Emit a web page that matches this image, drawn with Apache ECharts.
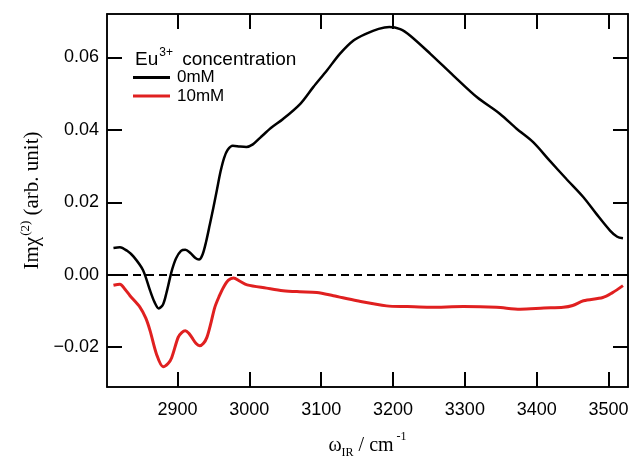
<!DOCTYPE html>
<html>
<head>
<meta charset="utf-8">
<script src="https://cdn.jsdelivr.net/npm/echarts@6/dist/echarts.min.js"></script>
<style>html,body{margin:0;padding:0;background:#fff}#c{width:630px;height:457px}</style>
</head>
<body>
<div id="c"></div>
<script>
var xTicks = [2900, 3000, 3100, 3200, 3300, 3400, 3500];
var yTicks = [-0.02, 0, 0.02, 0.04, 0.06];
var seriesNames = ['0mM', '10mM'];

var wn0 = [2811, 2820, 2830, 2839, 2852, 2862, 2868, 2874, 2880, 2885, 2892, 2898, 2905, 2911, 2918, 2925, 2930, 2935, 2940, 2945, 2950, 2955, 2960, 2965, 2970, 2977, 2987, 2996, 3005, 3015, 3030, 3047, 3071, 3089, 3108, 3126, 3145, 3163, 3180, 3195, 3210, 3224, 3252, 3284, 3317, 3349, 3372, 3395, 3418, 3441, 3465, 3483, 3502, 3512, 3520];
var im0 = [0.0074, 0.0076, 0.0066, 0.0050, 0.0013, -0.0044, -0.0075, -0.0093, -0.0082, -0.0048, 0.0010, 0.0045, 0.0066, 0.0069, 0.0060, 0.0046, 0.0042, 0.0056, 0.0092, 0.0138, 0.0185, 0.0235, 0.0285, 0.0323, 0.0345, 0.0356, 0.0354, 0.0353, 0.0360, 0.0378, 0.0405, 0.0430, 0.0472, 0.0518, 0.0564, 0.0610, 0.0647, 0.0666, 0.0679, 0.0684, 0.0678, 0.0660, 0.0610, 0.0550, 0.0490, 0.0444, 0.0403, 0.0366, 0.0315, 0.0265, 0.0214, 0.0168, 0.0122, 0.0105, 0.0101];

var wn10 = [2811, 2820, 2827, 2834, 2848, 2856, 2862, 2871, 2880, 2887, 2892, 2901, 2906, 2911, 2916, 2920, 2926, 2931, 2936, 2941, 2947, 2952, 2958, 2964, 2971, 2978, 2987, 2997, 3024, 3047, 3070, 3094, 3117, 3150, 3191, 3220, 3251, 3298, 3344, 3377, 3410, 3437, 3450, 3465, 3492, 3505, 3520];
var im10 = [-0.0029, -0.0026, -0.0040, -0.0058, -0.0090, -0.0120, -0.0155, -0.0220, -0.0254, -0.0245, -0.0229, -0.0173, -0.0160, -0.0155, -0.0162, -0.0173, -0.0190, -0.0196, -0.0190, -0.0173, -0.0130, -0.0090, -0.0060, -0.0035, -0.0015, -0.0009, -0.0018, -0.0028, -0.0037, -0.0044, -0.0047, -0.0049, -0.0058, -0.0072, -0.0086, -0.0088, -0.0090, -0.0088, -0.0090, -0.0095, -0.0092, -0.0090, -0.0085, -0.0072, -0.0063, -0.0050, -0.0030];

function pairs(xs, ys) { return xs.map(function (x, i) { return [x, ys[i]]; }); }

var X_MIN = 2802, X_MAX = 3527, Y_MIN = -0.031, Y_MAX = 0.072;
var sans = 'Liberation Sans, Arial, sans-serif';
var serif = 'Liberation Serif, Times New Roman, serif';

var chart = echarts.init(document.getElementById('c'), null, {renderer: 'canvas'});
var axisLine = {show: true, onZero: false, lineStyle: {color: '#000', width: 1.5}};
var tickStyle = {color: '#000', width: 2};

chart.setOption({
  animation: false,
  backgroundColor: '#fff',
  title: {
    left: 130, top: 42,
    text: '{b|Eu}{s|3+}{b| concentration}',
    textStyle: {
      fontWeight: 'normal',
      rich: {
        b: {fontFamily: sans, fontSize: 19, fontWeight: 'normal', color: '#000', lineHeight: 26},
        s: {fontFamily: sans, fontSize: 12, fontWeight: 'normal', color: '#000', verticalAlign: 'top', lineHeight: 12, padding: [0, 4, 0, 1]}
      }
    }
  },
  legend: {
    left: 128, top: 64, orient: 'vertical',
    icon: 'rect', itemWidth: 37, itemHeight: 3, itemGap: 1.5,
    data: seriesNames,
    textStyle: {fontFamily: sans, fontSize: 17, color: '#000', lineHeight: 16, padding: [0, 0, 0, 2]}
  },
  grid: {left: 107, right: 2, top: 14, bottom: 70, containLabel: false, outerBoundsMode: 'none',
    show: true, borderColor: '#000', borderWidth: 1.5},
  xAxis: [{
    type: 'value', min: X_MIN, max: X_MAX, position: 'bottom',
    axisLine: axisLine,
    axisTick: {show: true, inside: true, length: 15, lineStyle: tickStyle, customValues: xTicks},
    axisLabel: {show: true, customValues: xTicks, margin: 14, fontFamily: sans, fontSize: 18, color: '#000',
      formatter: function (v) { return String(v); }},
    splitLine: {show: false},
    name: '{a|ω}{sub|IR}{a| / cm}{sup|-1}',
    nameLocation: 'middle', nameGap: 44,
    nameTextStyle: {
      rich: {
        a: {fontFamily: serif, fontSize: 20, color: '#000', lineHeight: 30},
        sub: {fontFamily: serif, fontSize: 12, color: '#000', verticalAlign: 'bottom', lineHeight: 12, padding: [0, 0, 2, 0]},
        sup: {fontFamily: serif, fontSize: 12, color: '#000', verticalAlign: 'top', lineHeight: 12, padding: [0, 0, 0, 3]}
      }
    }
  }, {
    type: 'value', min: X_MIN, max: X_MAX, position: 'top',
    axisLine: axisLine,
    axisTick: {show: true, inside: true, length: 15, lineStyle: tickStyle, customValues: xTicks},
    axisLabel: {show: false},
    splitLine: {show: false}
  }],
  yAxis: [{
    type: 'value', min: Y_MIN, max: Y_MAX, position: 'left',
    axisLine: axisLine,
    axisTick: {show: true, inside: true, length: 15, lineStyle: tickStyle, customValues: yTicks},
    axisLabel: {show: true, customValues: yTicks, margin: 8, fontFamily: sans, fontSize: 18, color: '#000',
      formatter: function (v) { var s = Math.abs(v).toFixed(2); return v < -1e-9 ? '\u2212' + s : s; }},
    splitLine: {show: false},
    name: '{a|Imχ}{sup|(2)}{a| (arb. unit)}',
    nameLocation: 'middle', nameGap: 56, nameRotate: 90,
    nameTextStyle: {
      rich: {
        a: {fontFamily: serif, fontSize: 21, color: '#000', lineHeight: 26},
        sup: {fontFamily: serif, fontSize: 13, color: '#000', verticalAlign: 'top', lineHeight: 13, padding: [0, 0, 0, 1]}
      }
    }
  }, {
    type: 'value', min: Y_MIN, max: Y_MAX, position: 'right',
    axisLine: axisLine,
    axisTick: {show: true, inside: true, length: 15, lineStyle: tickStyle, customValues: yTicks},
    axisLabel: {show: false},
    splitLine: {show: false}
  }],
  series: [{
    name: seriesNames[0], type: 'line', data: pairs(wn0, im0),
    smooth: 0.3, symbol: 'none', lineStyle: {color: '#000', width: 2.5}, itemStyle: {color: '#000'},
    z: 3,
    markLine: {
      silent: true, symbol: 'none', label: {show: false},
      lineStyle: {color: '#000', width: 2, type: [8, 5]},
      data: [{yAxis: 0}]
    }
  }, {
    name: seriesNames[1], type: 'line', data: pairs(wn10, im10),
    smooth: 0.3, symbol: 'none', lineStyle: {color: '#e02020', width: 3}, itemStyle: {color: '#e02020'},
    z: 2
  }]
});
</script>
</body>
</html>
